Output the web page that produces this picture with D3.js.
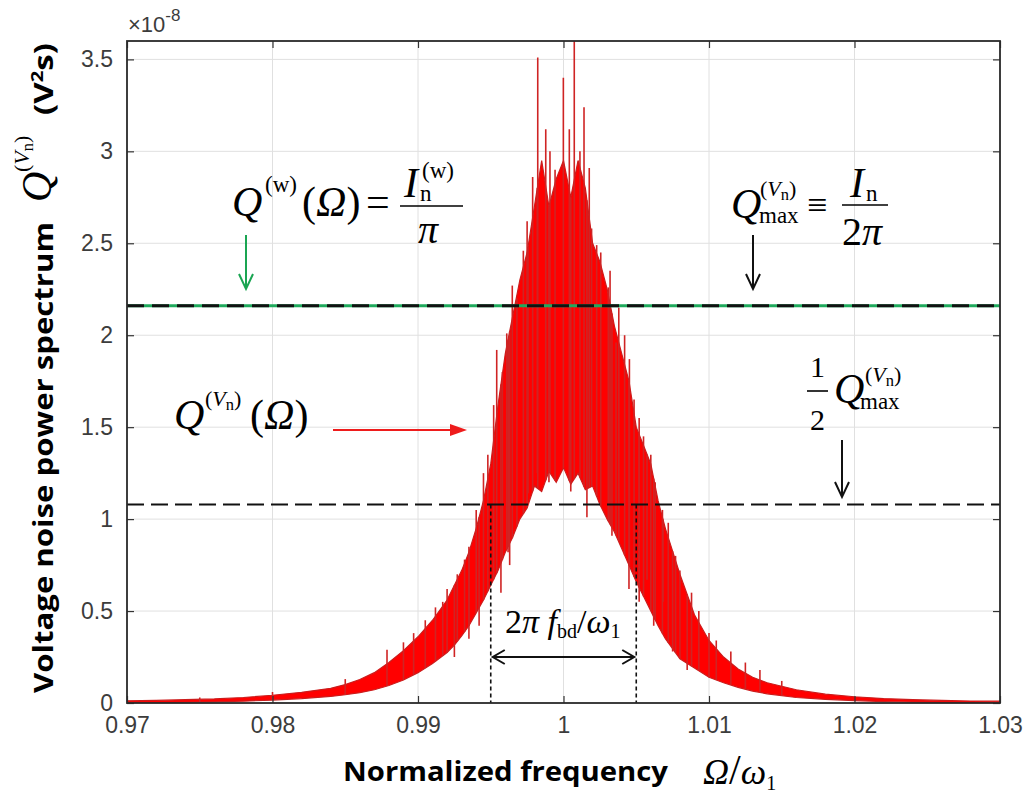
<!DOCTYPE html>
<html>
<head>
<meta charset="utf-8">
<script src="https://cdn.jsdelivr.net/npm/d3@7"></script>
<style>
  body { margin: 0; background: #fff; }
  svg { display: block; }
</style>
</head>
<body>
<div id="chart"></div>
<script>
// ---- data (values in units of 1e-8 V^2 s) ----
var xTicks = [0.97, 0.98, 0.99, 1.00, 1.01, 1.02, 1.03];
var yTicks = [0, 0.5, 1, 1.5, 2, 2.5, 3, 3.5];

// envelope of the noisy spectrum
var bandFreq = [0.970, 0.972, 0.974, 0.976, 0.978, 0.980, 0.982, 0.984, 0.985, 0.986,
                0.987, 0.988, 0.989, 0.990, 0.991, 0.992, 0.9925, 0.993, 0.9935, 0.994,
                0.9945, 0.995, 0.9955, 0.996, 0.9965, 0.997, 0.9975, 0.998, 0.9985, 0.999,
                0.9995, 1.000, 1.0005, 1.001, 1.0015, 1.002, 1.0025, 1.003, 1.0035, 1.004,
                1.0045, 1.005, 1.0055, 1.006, 1.0065, 1.007, 1.008, 1.009, 1.010, 1.011,
                1.012, 1.013, 1.014, 1.016, 1.018, 1.020, 1.022, 1.024, 1.026, 1.028, 1.030];
var bandLow  = [0.000, 0.002, 0.004, 0.006, 0.010, 0.016, 0.024, 0.036, 0.045, 0.056,
                0.072, 0.095, 0.125, 0.165, 0.215, 0.275, 0.315, 0.365, 0.420, 0.490,
                0.560, 0.640, 0.720, 0.820, 0.900, 1.000, 1.060, 1.180, 1.150, 1.260,
                1.200, 1.280, 1.190, 1.250, 1.160, 1.180, 1.080, 1.000, 0.930, 0.840,
                0.750, 0.660, 0.580, 0.500, 0.420, 0.350, 0.240, 0.190, 0.140, 0.110,
                0.085, 0.065, 0.050, 0.030, 0.020, 0.013, 0.008, 0.005, 0.003, 0.002, 0.000];
var bandHigh = [0.012, 0.014, 0.018, 0.022, 0.030, 0.042, 0.058, 0.080, 0.100, 0.128,
                0.165, 0.220, 0.285, 0.360, 0.450, 0.560, 0.640, 0.720, 0.820, 0.950,
                1.100, 1.300, 1.620, 1.900, 2.100, 2.300, 2.450, 2.700, 2.950, 2.700,
                2.850, 2.950, 2.750, 2.950, 2.800, 2.500, 2.400, 2.250, 2.050, 1.900,
                1.750, 1.500, 1.400, 1.300, 1.100, 0.950, 0.700, 0.480, 0.340, 0.250,
                0.185, 0.140, 0.110, 0.072, 0.048, 0.034, 0.024, 0.018, 0.014, 0.011, 0.010];

// individual spikes above the band
var spikeUpFreq = [0.9750, 0.9800, 0.9850, 0.98787, 0.9890, 0.9897, 0.9905, 0.9912,
                   0.9917, 0.9920, 0.9927, 0.9932, 0.9935, 0.9940, 0.9945, 0.9948,
                   0.9952, 0.99541, 0.9958, 0.99610, 0.9962, 0.99648, 0.9968, 0.99724,
                   0.9975, 0.99788, 0.99823, 0.99878, 0.99907, 0.99942, 0.99999, 1.00040,
                   1.00074, 1.00113, 1.00141, 1.00177, 1.00193, 1.00228, 1.00256, 1.00308,
                   1.0032, 1.00361, 1.0038, 1.0042, 1.00453, 1.00485, 1.0052, 1.0055,
                   1.0060, 1.0063, 1.0068, 1.0072, 1.0077, 1.0080, 1.0088, 1.0093,
                   1.0100, 1.0105, 1.0115, 1.0125, 1.0135, 1.0150];
var spikeUpVal  = [0.03, 0.06, 0.13, 0.29, 0.33, 0.38, 0.45, 0.52,
                   0.55, 0.62, 0.70, 0.78, 0.85, 1.05, 1.25, 1.35,
                   1.62, 1.92, 1.80, 2.01, 1.95, 2.27, 2.20, 2.46,
                   2.62, 2.86, 3.51, 3.12, 3.00, 2.90, 3.40, 3.12,
                   3.60, 3.00, 3.24, 2.91, 2.58, 2.49, 2.45, 2.26,
                   2.35, 1.96, 2.15, 2.00, 1.87, 1.65, 1.55, 1.45,
                   1.35, 1.20, 1.05, 0.98, 0.80, 0.72, 0.60, 0.50,
                   0.38, 0.34, 0.28, 0.22, 0.18, 0.12];
// dips below the band
var spikeDownFreq = [0.9925, 0.9935, 0.9942, 0.9957, 0.99619, 0.9963, 0.99756, 0.9982,
                     0.9990, 1.0005, 1.00161, 1.00333, 1.0045, 1.0052, 1.00574, 1.0062,
                     1.00684, 1.0075, 1.0085];
var spikeDownVal  = [0.25, 0.35, 0.42, 0.60, 0.82, 0.75, 1.14, 1.25,
                     1.20, 1.15, 1.01, 0.91, 0.62, 0.55, 0.67, 0.42,
                     0.55, 0.28, 0.18];

var qWhite = 2.16;   // Q^(w) = Q_max level
var qHalf = 1.08;    // half of Q_max
var bandEdges = [0.995, 1.005];

(function(){
    "use strict";
    // ---- layout ----
    var W = 1031, H = 793;
    var pL = 127, pR = 1000, pT = 41, pB = 703;
    var serif = "'Liberation Serif', 'Times New Roman', serif";
    var sans = "'Liberation Sans', Arial, sans-serif";
    var bold = "'Open Sans', sans-serif";

    var svg = d3.select('#chart').append('svg')
        .attr('width', W).attr('height', H);

    var x = d3.scaleLinear().domain([0.97, 1.03]).range([pL, pR]);
    var y = d3.scaleLinear().domain([0, 3.6]).range([pB, pT]);

    svg.append('defs').append('clipPath').attr('id', 'clip')
        .append('rect').attr('x', pL).attr('y', pT)
        .attr('width', pR - pL).attr('height', pB - pT);

    // grid
    var grid = svg.append('g').attr('stroke', '#e0e0e0').attr('stroke-width', 1);
    grid.selectAll('.gx').data(xTicks).enter().append('line')
        .attr('x1', function(d){ return x(d); }).attr('x2', function(d){ return x(d); })
        .attr('y1', pT).attr('y2', pB);
    grid.selectAll('.gy').data(yTicks).enter().append('line')
        .attr('x1', pL).attr('x2', pR)
        .attr('y1', function(d){ return y(d); }).attr('y2', function(d){ return y(d); });

    // spectrum
    var plot = svg.append('g').attr('clip-path', 'url(#clip)');
    var band = bandFreq.map(function(f, i){ return {f: f, lo: bandLow[i], hi: bandHigh[i]}; });
    plot.append('path').datum(band)
        .attr('d', d3.area()
            .x(function(d){ return x(d.f); })
            .y0(function(d){ return y(d.lo); })
            .y1(function(d){ return y(d.hi); }))
        .attr('fill', '#ff0000')
        .attr('stroke', '#cc1c1c').attr('stroke-width', 1.2);

    var bis = d3.bisector(function(d){ return d.f; }).left;
    function bandAt(f, key){
        var i = bis(band, f);
        if(i <= 0){ return band[0][key]; }
        if(i >= band.length){ return band[band.length - 1][key]; }
        var a = band[i - 1], b = band[i];
        return a[key] + (b[key] - a[key]) * (f - a.f) / (b.f - a.f);
    }

    var ups = spikeUpFreq.map(function(f, i){ return {f: f, v: spikeUpVal[i]}; });
    plot.selectAll('.up').data(ups).enter().append('line')
        .attr('x1', function(d){ return x(d.f); }).attr('x2', function(d){ return x(d.f); })
        .attr('y1', function(d){ return y(bandAt(d.f, 'lo')); })
        .attr('y2', function(d){ return y(d.v); })
        .attr('stroke', '#cf2424').attr('stroke-width', 1.6);

    var downs = spikeDownFreq.map(function(f, i){ return {f: f, v: spikeDownVal[i]}; });
    plot.selectAll('.down').data(downs).enter().append('line')
        .attr('x1', function(d){ return x(d.f); }).attr('x2', function(d){ return x(d.f); })
        .attr('y1', function(d){ return y(bandAt(d.f, 'hi')); })
        .attr('y2', function(d){ return y(d.v); })
        .attr('stroke', '#cf2424').attr('stroke-width', 1.6);

    // reference levels
    svg.append('line').attr('x1', pL).attr('x2', pR)
        .attr('y1', y(qWhite)).attr('y2', y(qWhite))
        .attr('stroke', '#1faa5c').attr('stroke-width', 3);
    svg.append('line').attr('x1', pL).attr('x2', pR)
        .attr('y1', y(qWhite)).attr('y2', y(qWhite))
        .attr('stroke', '#111').attr('stroke-width', 3).attr('stroke-dasharray', '17,8');
    svg.append('line').attr('x1', pL).attr('x2', pR)
        .attr('y1', y(qHalf)).attr('y2', y(qHalf))
        .attr('stroke', '#111').attr('stroke-width', 2).attr('stroke-dasharray', '17,7');
    svg.selectAll('.edge').data(bandEdges).enter().append('line')
        .attr('x1', function(d){ return x(d); }).attr('x2', function(d){ return x(d); })
        .attr('y1', y(qHalf)).attr('y2', pB)
        .attr('stroke', '#111').attr('stroke-width', 1.6).attr('stroke-dasharray', '4,3');

    // axes
    var fmt = function(d){ return String(+d.toFixed(2)); };
    function styleAxis(g){
        g.select('.domain').remove();
        g.selectAll('.tick line').attr('stroke', '#333').attr('stroke-width', 1.2);
        g.selectAll('.tick text').attr('fill', '#3c3c3c')
            .attr('font-family', sans).attr('font-size', 23);
    }
    svg.append('g').attr('transform', 'translate(0,' + pB + ')')
        .call(d3.axisBottom(x).tickValues(xTicks).tickFormat(fmt).tickSize(-7).tickPadding(14))
        .call(styleAxis);
    svg.append('g').attr('transform', 'translate(0,' + pT + ')')
        .call(d3.axisTop(x).tickValues(xTicks).tickFormat('').tickSize(-7))
        .call(styleAxis);
    svg.append('g').attr('transform', 'translate(' + pL + ',0)')
        .call(d3.axisLeft(y).tickValues(yTicks).tickFormat(fmt).tickSize(-7).tickPadding(14))
        .call(styleAxis);
    svg.append('g').attr('transform', 'translate(' + pR + ',0)')
        .call(d3.axisRight(y).tickValues(yTicks).tickFormat('').tickSize(-7))
        .call(styleAxis);
    svg.append('rect').attr('x', pL).attr('y', pT)
        .attr('width', pR - pL).attr('height', pB - pT)
        .attr('fill', 'none').attr('stroke', '#2a2a2a').attr('stroke-width', 1.8);

    // exponent label
    var ex = svg.append('text').attr('x', 128).attr('y', 32)
        .attr('font-family', sans).attr('font-size', 22).attr('fill', '#3c3c3c');
    ex.append('tspan').text('\u00d710');
    ex.append('tspan').attr('dy', -11).attr('font-size', 17).text('-8');

    // ---- math annotations ----
    function put(g, px, py, s, size, it, fill){
        return g.append('text').attr('x', px).attr('y', py).text(s)
            .attr('font-family', serif).attr('font-size', size)
            .attr('font-style', it ? 'italic' : 'normal')
            .attr('fill', fill || '#000');
    }
    function bar(g, x1, x2, yy){
        g.append('line').attr('x1', x1).attr('x2', x2).attr('y1', yy).attr('y2', yy)
            .attr('stroke', '#000').attr('stroke-width', 1.6);
    }
    function vn(g, px, py, size){
        // "(V_n)" superscript
        var t = g.append('text').attr('x', px).attr('y', py)
            .attr('font-family', serif).attr('font-size', size);
        t.append('tspan').text('(');
        t.append('tspan').attr('font-style', 'italic').text('V');
        t.append('tspan').attr('font-size', size * 0.75).attr('dy', size * 0.2).text('n');
        t.append('tspan').attr('dy', -size * 0.2).text(')');
    }
    function arrowDown(px, y1, y2, color){
        svg.append('line').attr('x1', px).attr('x2', px).attr('y1', y1).attr('y2', y2)
            .attr('stroke', color).attr('stroke-width', 2);
        svg.append('path').attr('d', 'M' + (px - 7) + ',' + (y2 - 15) + 'L' + px + ',' + y2 + 'L' + (px + 7) + ',' + (y2 - 15))
            .attr('fill', 'none').attr('stroke', color).attr('stroke-width', 2);
    }

    var ann = svg.append('g');

    // Q^(w)(Ω) = I_n^(w) / π
    put(ann, 232, 216, 'Q', 42, true);
    put(ann, 265, 192, '(w)', 23, false);
    var t1 = put(ann, 302, 216, '(', 42, false);
    t1.append('tspan').attr('font-style', 'italic').text('\u03a9');
    t1.append('tspan').text(')');
    put(ann, 366, 216, '=', 42, false);
    put(ann, 404, 197, 'I', 42, true);
    put(ann, 420, 201, 'n', 23, false);
    put(ann, 422, 178, '(w)', 23, false);
    bar(ann, 400, 463, 206);
    put(ann, 418, 243, '\u03c0', 40, true);
    arrowDown(246, 235, 289, '#1aa552');

    // Q_max^(Vn) ≡ I_n / 2π
    put(ann, 731, 218, 'Q', 42, true);
    vn(ann, 760, 196, 22);
    put(ann, 759, 223, 'max', 23, false);
    put(ann, 807, 217, '\u2261', 36, false);
    put(ann, 850, 197, 'I', 42, true);
    put(ann, 866, 201, 'n', 23, false);
    bar(ann, 842, 888, 205);
    var t2 = put(ann, 842, 245, '2', 40, false);
    t2.append('tspan').attr('font-style', 'italic').text('\u03c0');
    arrowDown(753, 235, 289, '#111');

    // Q^(Vn)(Ω)
    put(ann, 174, 429, 'Q', 42, true);
    vn(ann, 205, 406, 22);
    var t3 = put(ann, 250, 429, '(', 42, false);
    t3.append('tspan').attr('font-style', 'italic').text('\u03a9');
    t3.append('tspan').text(')');
    svg.append('line').attr('x1', 333).attr('x2', 462).attr('y1', 430).attr('y2', 430)
        .attr('stroke', '#ee1c1c').attr('stroke-width', 2);
    svg.append('path').attr('d', 'M450,424L467,430L450,436Z').attr('fill', '#ee1c1c');

    // 1/2 Q_max^(Vn)
    put(ann, 810, 377, '1', 30, false);
    bar(ann, 807, 828, 391);
    put(ann, 810, 430, '2', 30, false);
    put(ann, 834, 403, 'Q', 42, true);
    vn(ann, 865, 382, 22);
    put(ann, 860, 409, 'max', 23, false);
    arrowDown(842, 440, 497, '#111');

    // bandwidth arrow and label
    var e0 = x(bandEdges[0]), e1 = x(bandEdges[1]);
    svg.append('line').attr('x1', e0 + 2).attr('x2', e1 - 2)
        .attr('y1', 657).attr('y2', 657).attr('stroke', '#111').attr('stroke-width', 2);
    svg.append('path')
        .attr('d', 'M' + (e0 + 14) + ',650L' + (e0 + 2) + ',657L' + (e0 + 14) + ',664')
        .attr('fill', 'none').attr('stroke', '#111').attr('stroke-width', 2);
    svg.append('path')
        .attr('d', 'M' + (e1 - 14) + ',650L' + (e1 - 2) + ',657L' + (e1 - 14) + ',664')
        .attr('fill', 'none').attr('stroke', '#111').attr('stroke-width', 2);
    var t4 = put(ann, 505, 633, '2', 34, false);
    t4.append('tspan').attr('font-style', 'italic').text('\u03c0 f');
    t4.append('tspan').attr('font-size', 20).attr('dy', 5).text('bd');
    t4.append('tspan').attr('dy', -5).text('/');
    t4.append('tspan').attr('font-style', 'italic').text('\u03c9');
    t4.append('tspan').attr('font-size', 20).attr('dy', 5).text('1');

    // ---- axis titles ----
    svg.append('text').attr('x', 343).attr('y', 781)
        .attr('font-family', bold).attr('font-weight', 700)
        .attr('font-size', 26).attr('textLength', 325).attr('lengthAdjust', 'spacingAndGlyphs')
        .text('Normalized frequency');
    var t5 = put(svg, 703, 784, '\u03a9', 36, true);
    t5.append('tspan').attr('font-style', 'normal').attr('font-size', 42).text('/');
    t5.append('tspan').text('\u03c9');
    t5.append('tspan').attr('font-style', 'normal').attr('font-size', 20).attr('dy', 6).text('1');

    var yl = svg.append('g').attr('transform', 'translate(53,0) rotate(-90)');
    yl.append('text').attr('x', -693).attr('y', 0)
        .attr('font-family', bold).attr('font-weight', 700)
        .attr('font-size', 26).attr('textLength', 471).attr('lengthAdjust', 'spacingAndGlyphs')
        .text('Voltage noise power spectrum');
    put(yl, -202, -2, 'Q', 42, true);
    vn(yl, -172, -24, 22);
    var t6 = yl.append('text').attr('x', -115).attr('y', 0)
        .attr('font-family', bold).attr('font-weight', 700)
        .attr('font-size', 26).attr('textLength', 72).attr('lengthAdjust', 'spacingAndGlyphs');
    t6.append('tspan').text('(V');
    t6.append('tspan').attr('font-size', 16).attr('dy', -10).text('2');
    t6.append('tspan').attr('dy', 10).text('s)');
})();
</script>
</body>
</html>
